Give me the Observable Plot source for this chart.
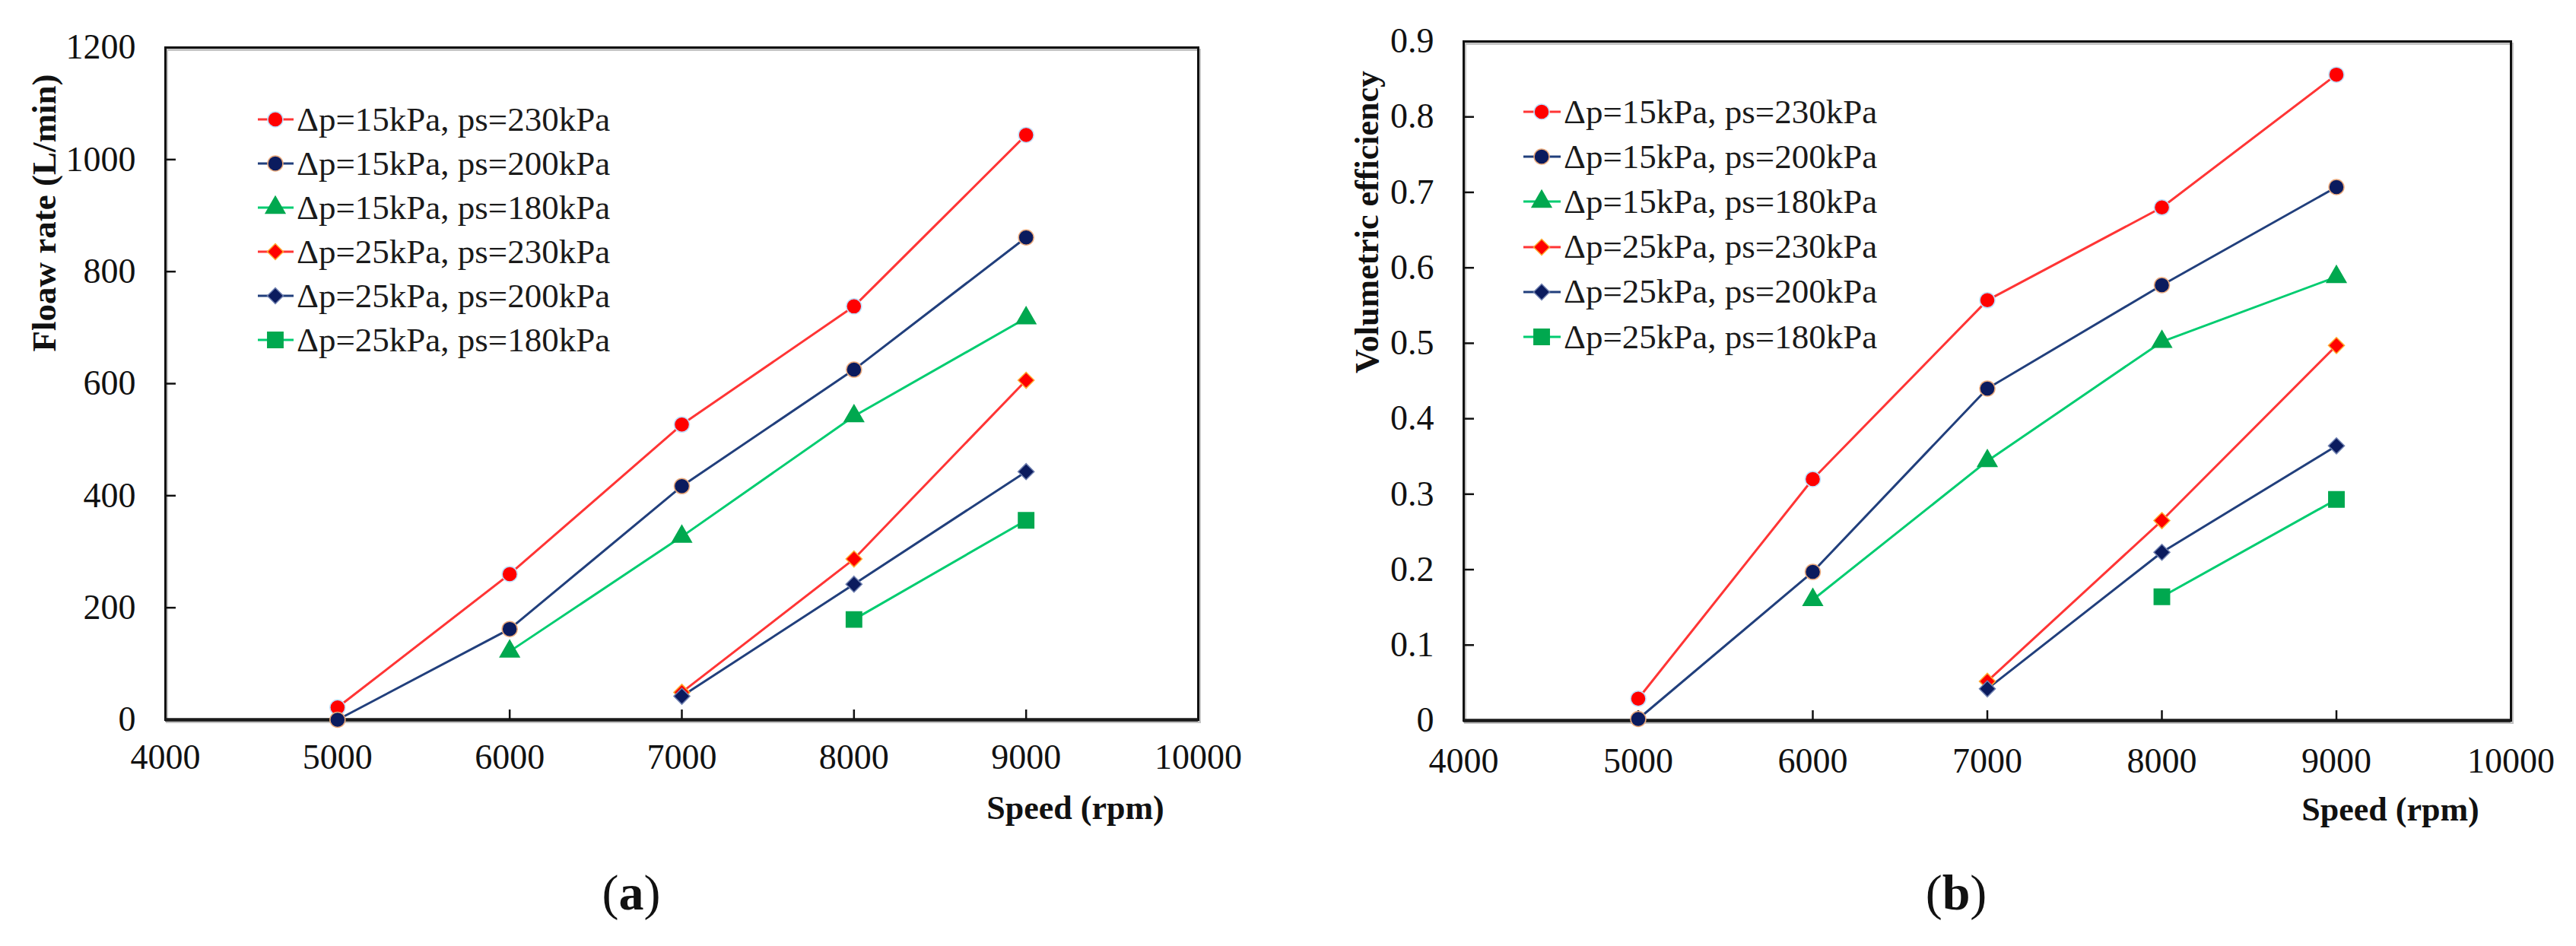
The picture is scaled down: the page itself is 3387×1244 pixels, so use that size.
<!DOCTYPE html>
<html>
<head>
<meta charset="utf-8">
<script src="https://cdn.jsdelivr.net/npm/d3@7"></script>
<script src="https://cdn.jsdelivr.net/npm/@observablehq/plot@0.6"></script>
<style>
  html, body { margin: 0; padding: 0; background: #fff; }
  #root { position: relative; width: 3387px; height: 1244px; overflow: hidden; background: #fff;
          font-family: "Liberation Serif", "Times New Roman", serif; color: #111; }
  .abs { position: absolute; white-space: nowrap; line-height: 1; }
  .chart { position: absolute; top: 0; }
  .legrow { position: absolute; display: flex; align-items: center; height: 50px; white-space: nowrap;
            font-size: 45px; line-height: 1; color: #1a1a1a; }
  .legrow svg { display: block; }
</style>
</head>
<body>
<div id="root"></div>
<script>
// ---------------- DATA ----------------
const speeds = [5000, 6000, 7000, 8000, 9000];
const seriesLabels = [
  "Δp=15kPa, ps=230kPa",
  "Δp=15kPa, ps=200kPa",
  "Δp=15kPa, ps=180kPa",
  "Δp=25kPa, ps=230kPa",
  "Δp=25kPa, ps=200kPa",
  "Δp=25kPa, ps=180kPa"
];
// (a) Flow rate (L/min)
const flow_15_230 = [22, 260, 527, 738, 1044];
const flow_15_200 = [0, 162, 417, 625, 861];
const flow_15_180 = [null, 122, 327, 542, 717];
const flow_25_230 = [null, null, 49, 287, 606];
const flow_25_200 = [null, null, 42, 242, 443];
const flow_25_180 = [null, null, null, 179, 356];
// (b) Volumetric efficiency
const eff_15_230 = [0.029, 0.320, 0.557, 0.680, 0.856];
const eff_15_200 = [0.002, 0.197, 0.440, 0.577, 0.707];
const eff_15_180 = [null, 0.160, 0.344, 0.502, 0.588];
const eff_25_230 = [null, null, 0.052, 0.265, 0.497];
const eff_25_200 = [null, null, 0.042, 0.223, 0.364];
const eff_25_180 = [null, null, null, 0.164, 0.293];
// ticks
const xTicks = [4000, 5000, 6000, 7000, 8000, 9000, 10000];
const flowTicks = [0, 200, 400, 600, 800, 1000, 1200];
const effTicks = [0, 0.1, 0.2, 0.3, 0.4, 0.5, 0.6, 0.7, 0.8, 0.9];
// text
const flowTitle = "Floaw rate (L/min)";
const effTitle = "Volumetric efficiency";
const xTitle = "Speed (rpm)";
const panelA = "a";
const panelB = "b";

// ---------------- STYLES ----------------
const seriesStyles = [
  {line: "#FF3535", fill: "#FF0000", stroke: "#BFDFFF", symbol: "circle", r: 10},
  {line: "#213F7C", fill: "#0B1B5E", stroke: "#E9A97C", symbol: "circle", r: 10},
  {line: "#00CC70", fill: "#00A84F", stroke: "#00A84F", symbol: "triangle", r: 9.5},
  {line: "#FF3535", fill: "#FF0000", stroke: "#FFAA30", symbol: "diamond2", r: 9.5},
  {line: "#213F7C", fill: "#0B1B5E", stroke: "#6F80B0", symbol: "diamond2", r: 9.5},
  {line: "#00CC70", fill: "#00A84F", stroke: "#00A84F", symbol: "square", r: 11.5}
];
const d3Symbols = {circle: d3.symbolCircle, triangle: d3.symbolTriangle, diamond2: d3.symbolDiamond2, square: d3.symbolSquare};

const root = document.getElementById("root");

function rowsOf(vals) {
  return speeds.map((s, i) => ({speed: s, value: vals[i]})).filter(d => d.value != null);
}

function makeChart(cfg) {
  const marks = [
    Plot.frame({stroke: "#c4c4c4", strokeWidth: 3, dx: 2, dy: 3}),
    Plot.frame({stroke: "#111", strokeWidth: 3}),
    Plot.ruleY([0], {stroke: "#1a1a1a", strokeWidth: 4.5}),
    Plot.axisY(cfg.yTicks.slice(1, -1), {anchor: "left", tickSize: -14, strokeWidth: 2.5, stroke: "#111", fill: null, label: null}),
    Plot.axisY(cfg.yTicks, {anchor: "left", tickSize: 0, tickPadding: 39, fontSize: 46, fill: "#111", tickFormat: d => String(d), label: null}),
    Plot.axisX(xTicks.slice(1, -1), {anchor: "bottom", tickSize: -13, strokeWidth: 2.5, stroke: "#111", fill: null, label: null}),
    Plot.axisX(xTicks, {anchor: "bottom", tickSize: 0, tickPadding: cfg.xPad, fontSize: 46, fill: "#111", tickFormat: d => String(d), label: null})
  ];
  cfg.series.forEach((vals, i) => {
    const st = seriesStyles[i];
    marks.push(Plot.line(rowsOf(vals), {x: "speed", y: "value", stroke: st.line, strokeWidth: 3}));
  });
  cfg.series.forEach((vals, i) => {
    const st = seriesStyles[i];
    marks.push(Plot.dot(rowsOf(vals), {x: "speed", y: "value", symbol: st.symbol, r: st.r, fill: st.fill, stroke: st.stroke, strokeWidth: 1.5}));
  });
  const svg = Plot.plot({
    width: cfg.width,
    height: 1050,
    marginLeft: cfg.mLeft,
    marginRight: cfg.mRight,
    marginTop: cfg.mTop,
    marginBottom: cfg.mBottom,
    style: {fontFamily: "'Liberation Serif', 'Times New Roman', serif", fontSize: "46px", color: "#111", background: "transparent", overflow: "visible"},
    x: {type: "linear", domain: [4000, 10000], label: null},
    y: {type: "linear", domain: [cfg.yTicks[0], cfg.yTicks[cfg.yTicks.length - 1]], label: null},
    marks
  });
  const holder = document.createElement("div");
  holder.className = "chart";
  holder.style.left = cfg.left + "px";
  holder.appendChild(svg);
  root.appendChild(holder);
}

function addText(txt, x, y, opts = {}) {
  const d = document.createElement("div");
  d.className = "abs";
  d.innerHTML = txt;
  d.style.left = x + "px";
  d.style.top = y + "px";
  d.style.fontSize = (opts.size || 44) + "px";
  d.style.fontWeight = opts.bold ? "bold" : "normal";
  d.style.transform = "translate(-50%, -50%)" + (opts.rotate ? " rotate(-90deg)" : "");
  root.appendChild(d);
}

function addLegend(lineStart, textStart, markerX, y0, dy) {
  seriesLabels.forEach((lab, i) => {
    const st = seriesStyles[i];
    const row = document.createElement("div");
    row.className = "legrow";
    row.style.left = lineStart + "px";
    row.style.top = (y0 + i * dy - 25) + "px";
    const w = textStart - lineStart;
    const cx = markerX - lineStart;
    const ns = "http://www.w3.org/2000/svg";
    const s = document.createElementNS(ns, "svg");
    s.setAttribute("width", w);
    s.setAttribute("height", 50);
    const ln = document.createElementNS(ns, "line");
    ln.setAttribute("x1", 0); ln.setAttribute("x2", w - 4);
    ln.setAttribute("y1", 25); ln.setAttribute("y2", 25);
    ln.setAttribute("stroke", st.line); ln.setAttribute("stroke-width", 3);
    s.appendChild(ln);
    const p = document.createElementNS(ns, "path");
    p.setAttribute("d", d3.symbol().type(d3Symbols[st.symbol]).size(Math.PI * st.r * st.r)());
    p.setAttribute("transform", `translate(${cx},25)`);
    p.setAttribute("fill", st.fill);
    p.setAttribute("stroke", st.stroke);
    p.setAttribute("stroke-width", 1.5);
    s.appendChild(p);
    row.appendChild(s);
    const t = document.createElement("span");
    t.textContent = lab;
    row.appendChild(t);
    root.appendChild(row);
  });
}

// (a)
makeChart({
  left: 0, width: 1700, mLeft: 217, mRight: 125, mTop: 62, mBottom: 104, xPad: 32,
  yTicks: flowTicks,
  series: [flow_15_230, flow_15_200, flow_15_180, flow_25_230, flow_25_200, flow_25_180]
});
// (b)
makeChart({
  left: 1700, width: 1687, mLeft: 224, mRight: 86, mTop: 54, mBottom: 103, xPad: 36,
  yTicks: effTicks,
  series: [eff_15_230, eff_15_200, eff_15_180, eff_25_230, eff_25_200, eff_25_180]
});

addLegend(339, 390, 362, 157, 58);
addLegend(2003, 2056, 2027, 147, 59.2);

addText(flowTitle, 58, 280, {bold: true, rotate: true, size: 45});
addText(effTitle, 1798, 292, {bold: true, rotate: true, size: 44});
addText(xTitle, 1414, 1063, {bold: true, size: 44});
addText(xTitle, 3143, 1065, {bold: true, size: 44});
addText("(<b>" + panelA + "</b>)", 830, 1174, {size: 66});
addText("(<b>" + panelB + "</b>)", 2572, 1174, {size: 66});
</script>
</body>
</html>
